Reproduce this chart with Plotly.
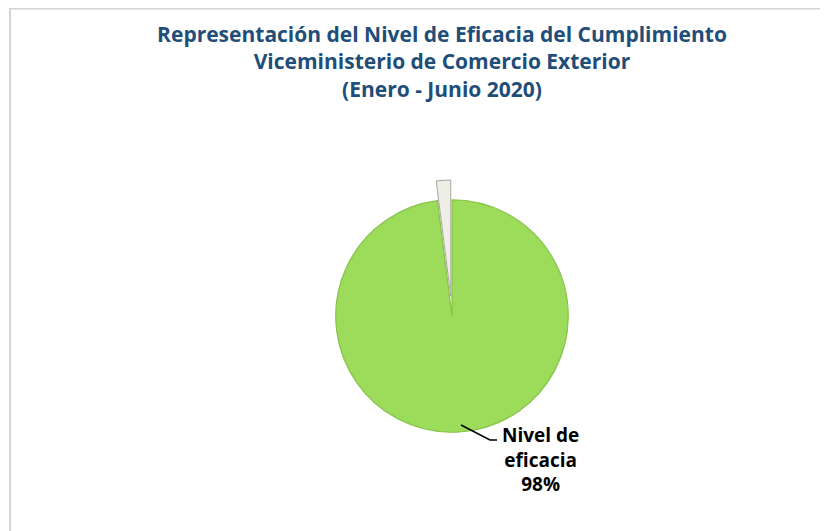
import plotly.graph_objects as go

# Data
labels = ["Nivel de eficacia", "Incumplimiento"]
values = [98, 2]
title_lines = [
    "Representación del Nivel de Eficacia del Cumplimiento",
    "Viceministerio de Comercio Exterior",
    "(Enero - Junio 2020)",
]

# The page body adds an 8px offset; work in screenshot pixels and convert.
OFF = 8
W, H = 820, 523


def px(x):
    return (x - OFF) / W


def py(y):
    return 1 - (y - OFF) / H


total = sum(values)
pct = round(values[0] / total * 100)

fig = go.Figure()
fig.add_trace(go.Pie(
    labels=labels,
    values=values,
    sort=False,
    direction="clockwise",
    rotation=0,
    pull=[0, 0.17],
    textinfo="none",
    hoverinfo="label+percent",
    marker=dict(
        colors=["#9CDC5A", "#EEEEE6"],
        line=dict(color=["#86C24A", "#A8A89E"], width=[1.2, 1]),
    ),
    domain=dict(x=[px(316), px(588)], y=[py(452), py(180)]),
    showlegend=False,
))

fig.update_layout(
    width=W,
    height=H,
    margin=dict(l=0, r=0, t=0, b=0),
    paper_bgcolor="white",
    plot_bgcolor="white",
    title=dict(
        text="<b>" + "<br>".join(title_lines) + "</b>",
        x=px(442),
        xanchor="center",
        xref="paper",
        y=py(42),
        yref="container",
        yanchor="middle",
        font=dict(family="'Open Sans', sans-serif", size=21, color="#1F4E79"),
    ),
    shapes=[
        dict(type="rect", xref="paper", yref="paper",
             x0=px(10), x1=1.05, y0=-0.05, y1=py(8.5),
             line=dict(color="#D4D4D4", width=2), fillcolor="rgba(0,0,0,0)"),
        dict(type="path", xref="paper", yref="paper",
             path=f"M {px(461)} {py(425)} L {px(490)} {py(440)} L {px(497)} {py(440)}",
             line=dict(color="black", width=1.5)),
    ],
    annotations=[
        dict(
            text="<b>Nivel de<br>eficacia<br>" + f"{pct}%" + "</b>",
            x=px(540), y=py(459), xref="paper", yref="paper",
            xanchor="center", yanchor="middle", showarrow=False,
            font=dict(family="'Open Sans', sans-serif", size=19, color="black"),
        )
    ],
)

fig.write_html("out.html")
